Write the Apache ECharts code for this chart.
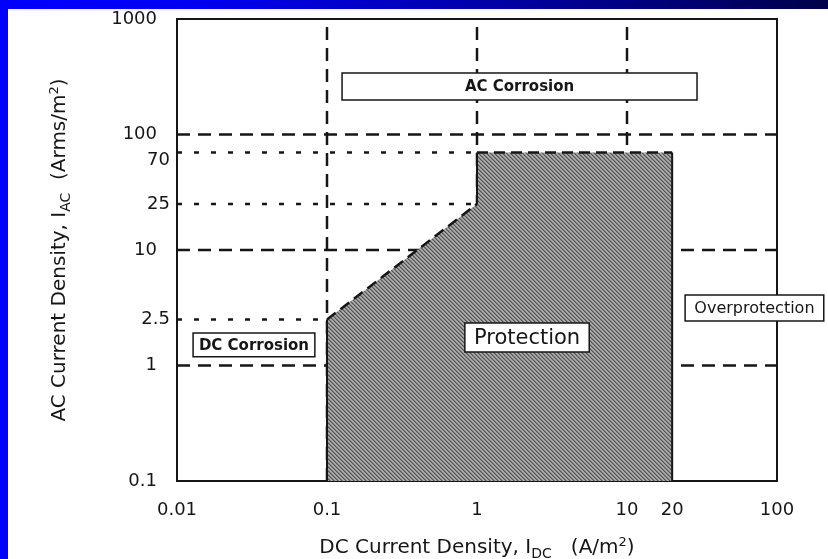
<!DOCTYPE html>
<html><head><meta charset="utf-8">
<script src="https://cdn.jsdelivr.net/npm/echarts@6/dist/echarts.min.js"></script>
<style>
html,body{margin:0;padding:0;background:#fff;}
#wrap{position:relative;width:828px;height:559px;overflow:hidden;background:#fff;}
#chart{position:absolute;left:0;top:0;width:828px;height:559px;}
#topband{position:absolute;left:0;top:0;width:828px;height:9px;background:linear-gradient(to right,#0000ff 0%,#0000f0 25%,#0000b0 55%,#000078 80%,#00004a 100%);}
#leftband{position:absolute;left:0;top:0;width:8px;height:559px;background:#0000ff;}
</style></head>
<body><div id="wrap"><div id="chart"></div><div id="topband"></div><div id="leftband"></div></div>
<script>
// ---- data ----
const xTicks = [0.01, 0.1, 1, 10, 20, 100];
const yMajorTicks = [0.1, 1, 10, 100, 1000];
const yMinorTicks = [2.5, 25, 70];
const dashedH = [1, 10, 100];          // dashed horizontal reference levels
const dashedV = [0.1, 1, 10];          // dashed vertical reference levels
const dottedH = [[70, 1], [25, 1], [2.5, 0.1]]; // [level, x end]
const protection = [[0.1, 0.1], [0.1, 2.5], [1, 25], [1, 70], [20, 70], [20, 0.1]];
const solidEdges = [[[0.1, 0.1], [0.1, 2.5]], [[1, 25], [1, 70]], [[20, 70], [20, 0.1]]];
const dashedEdges = [[[0.1, 2.5], [1, 25]], [[1, 70], [20, 70]]];
const boxLabels = ['AC Corrosion', 'DC Corrosion', 'Protection', 'Overprotection'];
const boxX = [[0.126, 29.3], [0.0128, 0.083], [0.83, 5.6], [24.4, 205]];
const boxY = [[199, 340], [1.19, 1.91], [1.31, 2.33], [2.43, 4.07]];

const FONT = '"DejaVu Sans", "Liberation Sans", Arial, sans-serif';
const INK = '#161616';
const boxStyle = [
  {size: 15, weight: 'bold'}, {size: 15, weight: 'bold'},
  {size: 21, weight: 'normal'}, {size: 16, weight: 'normal'}
];

// hatch pattern for the protection zone
function makePattern() {
  const c = document.createElement('canvas');
  c.width = 8; c.height = 8;
  const ctx = c.getContext('2d');
  const img = ctx.createImageData(8, 8);
  for (let j = 0; j < 8; j++) for (let i = 0; i < 8; i++) {
    const k = (i + (7 - j)) % 4;
    const v = k === 0 ? 85 : (k === 1 ? 125 : (k === 2 ? 175 : 160));
    const o = (j * 8 + i) * 4;
    img.data[o] = v; img.data[o + 1] = v; img.data[o + 2] = v; img.data[o + 3] = 255;
  }
  ctx.putImageData(img, 0, 0);
  return {image: c, repeat: 'repeat'};
}
const pattern = makePattern();

const series = [];
function seg(points, type, width, z) {
  series.push({
    type: 'line', data: points, symbol: 'none', silent: true, z: z,
    lineStyle: {color: INK, width: width, type: type, cap: 'butt'},
    animation: false
  });
}
const DASH = [13, 8], DOT = [5, 12], EDGE_DASH = [11, 6];
dashedH.forEach(y => seg([[0.01, y], [100, y]], DASH, 2.5, 1));
dashedV.forEach(x => seg([[x, 0.1], [x, 1000]], DASH, 2.5, 1));
dottedH.forEach(d => seg([[0.01, d[0]], [d[1], d[0]]], DOT, 2.5, 1));

series.push({
  type: 'custom', z: 2, silent: true, animation: false,
  data: protection,
  renderItem: function (params, api) {
    if (params.dataIndex !== 0) return null;
    return {type: 'polygon', shape: {points: protection.map(p => api.coord(p))},
            style: {fill: pattern}};
  }
});
solidEdges.forEach(e => seg(e, 'solid', 2, 3));
dashedEdges.forEach(e => seg(e, EDGE_DASH, 2.5, 3));

series.push({
  type: 'custom', z: 5, silent: true, animation: false, clip: false,
  data: boxLabels.map((n, i) => [boxX[i][0], boxY[i][0], boxX[i][1], boxY[i][1]]),
  encode: {x: [0, 2], y: [1, 3]},
  renderItem: function (params, api) {
    const i = params.dataIndex;
    const a = api.coord([api.value(0), api.value(3)]);
    const b = api.coord([api.value(2), api.value(1)]);
    return {
      type: 'group', children: [
        {type: 'rect', shape: {x: a[0], y: a[1], width: b[0] - a[0], height: b[1] - a[1]},
         style: {fill: '#fff', stroke: INK, lineWidth: 1.5}},
        {type: 'text', style: {text: boxLabels[i], x: (a[0] + b[0]) / 2, y: (a[1] + b[1]) / 2 + 1,
         align: 'center', verticalAlign: 'middle', fontSize: boxStyle[i].size,
         fontWeight: boxStyle[i].weight, fontFamily: FONT, fill: INK}}
      ]
    };
  }
});

const titleRich = {
  t: {fontSize: 20, fontFamily: FONT, color: INK},
  s: {fontSize: 14, fontFamily: FONT, color: INK, padding: [12, 0, 0, 0]},
  p: {fontSize: 13, fontFamily: FONT, color: INK, padding: [0, 0, 10, 0]}
};

const chart = echarts.init(document.getElementById('chart'), null, {renderer: 'canvas'});
const labelBase = {color: INK, fontSize: 18, fontFamily: FONT};
chart.setOption({
  animation: false,
  backgroundColor: 'transparent',
  grid: {left: 177, right: 51, top: 19, bottom: 78, show: true, borderColor: INK, borderWidth: 2,
         backgroundColor: '#fff', containLabel: false, outerBoundsMode: 'none'},
  xAxis: {
    type: 'log', logBase: 10, min: 0.01, max: 100,
    axisLine: {show: true, lineStyle: {color: INK, width: 2}},
    axisTick: {show: false}, splitLine: {show: false}, minorTick: {show: false},
    axisLabel: Object.assign({}, labelBase, {margin: 20, customValues: xTicks, formatter: v => String(+v.toPrecision(6))}),
    name: '{t|DC Current Density, I}{s|DC}{t|   (A/m}{p|2}{t|)}',
    nameLocation: 'middle', nameGap: 54,
    nameTextStyle: {rich: titleRich}
  },
  yAxis: [{
    type: 'log', logBase: 10, min: 0.1, max: 1000,
    axisLine: {show: true, lineStyle: {color: INK, width: 2}},
    axisTick: {show: false}, splitLine: {show: false},
    axisLabel: Object.assign({}, labelBase, {margin: 20, customValues: yMajorTicks, formatter: v => String(+v.toPrecision(6))}),
    name: '{t|AC Current Density, I}{s|AC}{t|  (Arms/m}{p|2}{t|)}',
    nameLocation: 'middle', nameGap: 104, nameRotate: 90,
    nameTextStyle: {rich: titleRich}
  }, {
    type: 'log', logBase: 10, min: 0.1, max: 1000, position: 'left',
    axisLine: {show: false}, axisTick: {show: false}, splitLine: {show: false},
    axisLabel: Object.assign({}, labelBase, {
      margin: 7, customValues: yMinorTicks,
      formatter: v => { const s = String(+v.toPrecision(6)); return s === '70' ? '{d|' + s + '}' : s; },
      rich: {d: {fontSize: 18, fontFamily: FONT, color: INK, padding: [15, 0, 0, 0]}}
    })
  }],
  series: series
});
</script>
</body></html>
